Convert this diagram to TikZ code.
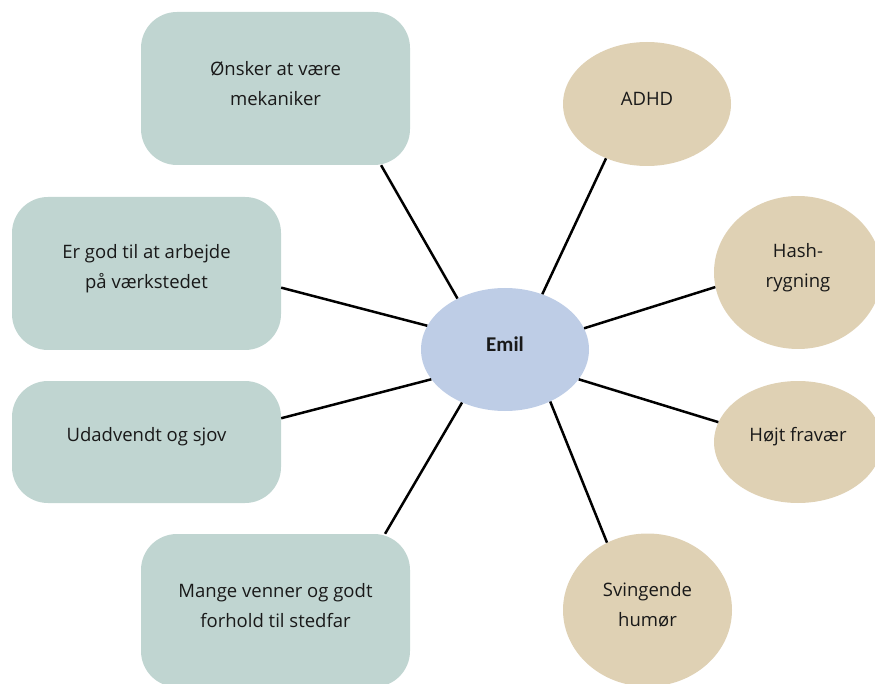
\documentclass[tikz,border=0pt]{standalone}
\usepackage{fontspec}
\setmainfont{Open Sans}
\newfontfamily\emilfont{Carlito}
\usetikzlibrary{shapes.geometric}
\definecolor{boxc}{RGB}{192,213,209}
\definecolor{midc}{RGB}{190,205,230}
\definecolor{beige}{RGB}{223,209,180}
\tikzset{
  box/.style={draw=none, fill=boxc, rounded corners=36pt, minimum width=269pt, inner sep=0pt},
  oval/.style={ellipse, draw=none, fill=beige, inner sep=0pt},
  txt/.style={font=\fontsize{18.5}{30}\selectfont, align=center, text=black!90, yshift=5pt},
  conn/.style={line width=2.5pt, black}
}
\begin{document}
\begin{tikzpicture}[x=1pt,y=-1pt]
\useasboundingbox (0,0) rectangle (875,684);
\clip (0,0) rectangle (875,684);
% boxes
\node[box, minimum height=153pt, label={[txt]center:Ønsker at være\\mekaniker}] (b1) at (275.5,88.5) {};
\node[box, minimum height=153pt, label={[txt]center:Er god til at arbejde\\på værkstedet}] (b2) at (146.5,273.5) {};
\node[box, minimum height=122pt, label={[txt]center:Udadvendt og sjov}] (b3) at (146.5,442) {};
\node[box, minimum height=153pt, label={[txt]center:Mange venner og godt\\forhold til stedfar}] (b4) at (275.5,610.5) {};
% center
\node[oval, fill=midc, minimum width=168pt, minimum height=123pt, label={[txt, font=\emilfont\bfseries\fontsize{21}{24}\selectfont]center:Emil}] (c) at (505,349.5) {};
% right ovals
\node[oval, minimum width=168pt, minimum height=124pt, label={[txt]center:ADHD}] (o1) at (647,104) {};
\node[oval, minimum width=168pt, minimum height=153pt, label={[txt]center:Hash-\\rygning}] (o2) at (798,272.5) {};
\node[oval, minimum width=168pt, minimum height=122pt, label={[txt]center:Højt fravær}] (o3) at (798,442) {};
\node[oval, minimum width=169pt, minimum height=153pt, label={[txt]center:Svingende\\humør}] (o4) at (647.5,610) {};
% connectors
\draw[conn] (b1.-36.9) -- (c.133.6);
\draw[conn] (b2.-6.9) -- (c.163.8);
\draw[conn] (b3.10) -- (c.202.8);
\draw[conn] (b4.35.3) -- (c.231.2);
\draw[conn] (o1.233.8) -- (c.56.8);
\draw[conn] (o2.190.7) -- (c.15.9);
\draw[conn] (o3.166.1) -- (c.-22.8);
\draw[conn] (o4.121.8) -- (c.-49.9);
\end{tikzpicture}
\end{document}
